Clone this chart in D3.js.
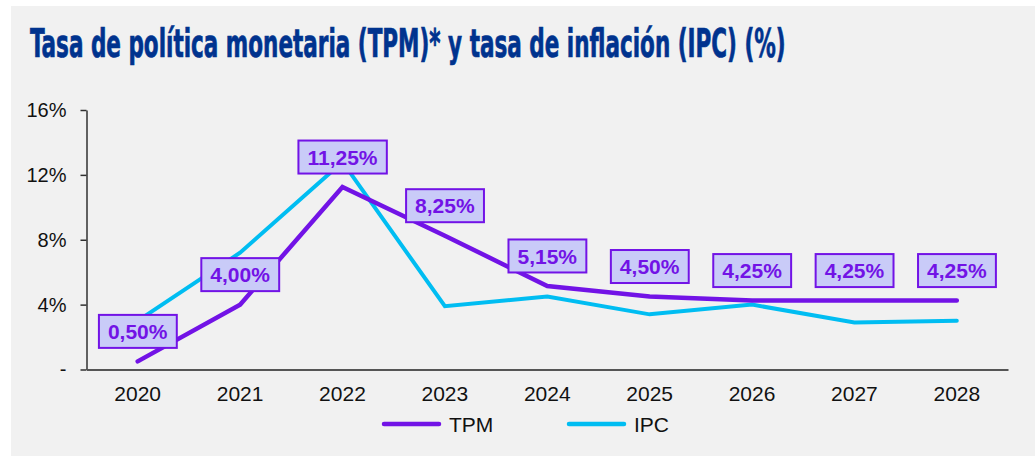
<!DOCTYPE html>
<html>
<head>
<meta charset="utf-8">
<script src="https://cdn.jsdelivr.net/npm/d3@7"></script>
<style>
  html, body { margin: 0; padding: 0; background: #fff; }
  svg { display: block; }
</style>
</head>
<body>
<svg id="chart" width="1035" height="456"></svg>
<script>
// data
const years = ['2020', '2021', '2022', '2023', '2024', '2025', '2026', '2027', '2028'];
const tpm = [0.5, 4.0, 11.25, 8.25, 5.15, 4.5, 4.25, 4.25, 4.25];
const ipc = [3.0, 7.2, 12.8, 3.9, 4.5, 3.4, 4.0, 2.9, 3.0];
const tpmLabels = ['0,50%', '4,00%', '11,25%', '8,25%', '5,15%', '4,50%', '4,25%', '4,25%', '4,25%'];
const yTicks = [0, 4, 8, 12, 16];
const seriesNames = ['TPM', 'IPC'];
const title = 'Tasa de política monetaria (TPM)* y tasa de inflación (IPC) (%)';

const colTPM = '#7213e6';
const colIPC = '#00bdf2';

const svg = d3.select('#chart');
const W = 1035, H = 456;
const plot = { left: 86.5, right: 1008, top: 110, bottom: 369.5 };

// panel
svg.append('rect')
  .attr('x', 11).attr('y', 6)
  .attr('width', W - 11).attr('height', H - 6)
  .attr('fill', '#f1f1f1');

// title: condensed bold, squeezed to the reference width
const titleText = svg.append('text')
  .style('font-family', '"Liberation Sans Narrow", "DejaVu Sans Condensed", sans-serif')
  .style('font-weight', 'bold')
  .style('font-size', '39px')
  .attr('fill', '#00338e')
  .attr('stroke', '#00338e')
  .attr('stroke-width', 0.7)
  .text(title);
const tLen = titleText.node().getComputedTextLength();
titleText.attr('transform', `translate(30,57) scale(${756 / tLen},1)`);

const x = d3.scaleBand().domain(years).range([plot.left, plot.right]).paddingInner(0).paddingOuter(0);
const y = d3.scaleLinear().domain([0, 16]).range([plot.bottom, plot.top]);
const cx = (d) => x(d) + x.bandwidth() / 2;

// y axis
const yAxis = d3.axisLeft(y)
  .tickValues(yTicks)
  .tickSizeInner(6)
  .tickSizeOuter(0)
  .tickPadding(14)
  .tickFormat((d) => (d === 0 ? '-' : d + '%'));
const yg = svg.append('g').attr('transform', `translate(${plot.left},0)`).call(yAxis);
yg.select('.domain').attr('stroke', '#303030').attr('stroke-width', 1.5);
yg.selectAll('.tick line').attr('stroke', '#303030').attr('stroke-width', 1.5);
yg.selectAll('.tick text')
  .style('font-family', '"Liberation Sans", Arial, sans-serif')
  .style('font-size', '20px')
  .attr('fill', '#111');

// x axis
const xAxis = d3.axisBottom(x).tickSize(0).tickPadding(17);
const xg = svg.append('g').attr('transform', `translate(0,${plot.bottom})`).call(xAxis);
xg.select('.domain').attr('stroke', '#555').attr('stroke-width', 2);
xg.selectAll('.tick text')
  .style('font-family', '"Liberation Sans", Arial, sans-serif')
  .style('font-size', '21px')
  .attr('fill', '#111');

// lines
const line = d3.line().x((d, i) => cx(years[i])).y((d) => y(d));
svg.append('path')
  .datum(ipc)
  .attr('d', line)
  .attr('fill', 'none')
  .attr('stroke', colIPC)
  .attr('stroke-width', 4)
  .attr('stroke-linecap', 'round');
svg.append('path')
  .datum(tpm)
  .attr('d', line)
  .attr('fill', 'none')
  .attr('stroke', colTPM)
  .attr('stroke-width', 4.5)
  .attr('stroke-linecap', 'round');

// data labels above TPM
const lab = svg.append('g').selectAll('g')
  .data(tpm)
  .enter()
  .append('g')
  .attr('transform', (d, i) => `translate(${cx(years[i])},${y(d) - 30})`);
lab.append('text')
  .attr('text-anchor', 'middle')
  .attr('dy', '0.36em')
  .style('font-family', '"Liberation Sans", Arial, sans-serif')
  .style('font-weight', 'bold')
  .style('font-size', '21px')
  .attr('fill', colTPM)
  .text((d, i) => tpmLabels[i]);
lab.each(function () {
  const g = d3.select(this);
  const bb = g.select('text').node().getBBox();
  g.insert('rect', 'text')
    .attr('x', bb.x - 9)
    .attr('y', -16.5)
    .attr('width', bb.width + 18)
    .attr('height', 33)
    .attr('fill', '#c9cbf8')
    .attr('stroke', colTPM)
    .attr('stroke-width', 2);
});

// legend
const legend = svg.append('g').attr('transform', 'translate(384,424)');
const items = legend.selectAll('g')
  .data(seriesNames)
  .enter()
  .append('g')
  .attr('transform', (d, i) => `translate(${i * 185},0)`);
items.append('line')
  .attr('x1', 0).attr('x2', 55)
  .attr('stroke', (d, i) => (i === 0 ? colTPM : colIPC))
  .attr('stroke-width', 4.5)
  .attr('stroke-linecap', 'round');
items.append('text')
  .attr('x', 65)
  .attr('dy', '0.36em')
  .style('font-family', '"Liberation Sans", Arial, sans-serif')
  .style('font-size', '21px')
  .attr('fill', '#111')
  .text((d) => d);
</script>
</body>
</html>
